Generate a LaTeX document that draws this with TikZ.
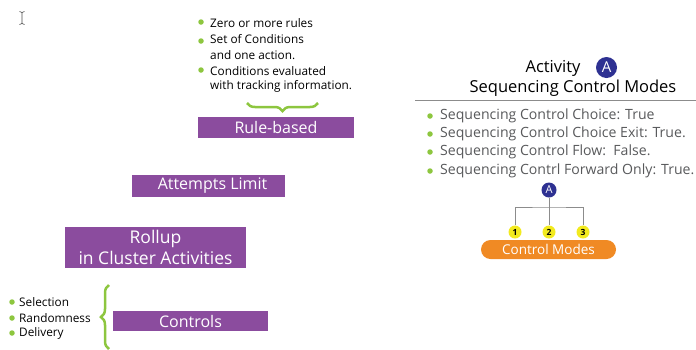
\documentclass[tikz,border=0pt]{standalone}
\usepackage{fontspec}
\setmainfont{Open Sans}
\usetikzlibrary{decorations.pathreplacing}
\definecolor{purp}{HTML}{8B4C9E}
\definecolor{lgreen}{HTML}{8DC63F}
\definecolor{navy}{HTML}{2E3192}
\definecolor{yel}{HTML}{F2EA1F}
\definecolor{orng}{HTML}{F08A24}
\definecolor{txtgray}{HTML}{58595B}
\begin{document}
\begin{tikzpicture}[x=1pt,y=-1pt,
  pbox/.style={fill=purp, text=white, inner sep=0pt, font=\fontsize{16}{18}\selectfont},
  ltxt/.style={anchor=west, inner sep=0pt, font=\fontsize{11.8}{13}\selectfont},
  rtxt/.style={anchor=west, inner sep=0pt, text=txtgray, font=\fontsize{14.1}{16}\selectfont},
  gdot/.style={circle, fill=lgreen, inner sep=0pt, minimum size=5.5pt},
  ycirc/.style={circle, fill=yel, inner sep=0pt, minimum size=13pt, font=\bfseries\fontsize{8.5}{9}\selectfont},
  gbrace/.style={draw=lgreen, line width=2.5pt, decorate, decoration={brace, amplitude=8pt}}]
\useasboundingbox (0,0) rectangle (696,349);
% cursor
\draw[black!70, line width=0.6pt] (22,12.5) -- (22,23.5)
  (19.5,11.5) .. controls (21,12) .. (22,12.5) .. controls (23,12) .. (24.5,11.5)
  (19.5,24.5) .. controls (21,24) .. (22,23.5) .. controls (23,24) .. (24.5,24.5);
% top list
\node[gdot] (d1) at (201,22) {};
\node[ltxt] (t1) at (210,23) {Zero or more rules};
\node[gdot] (d2) at (201,41) {};
\node[ltxt] (t2) at (210,39) {Set of Conditions};
\node[ltxt] (t3) at (210,55) {and one action.};
\node[gdot] (d3) at (201,70) {};
\node[ltxt] (t4) at (210,71) {Conditions evaluated};
\node[ltxt] (t5) at (210,86) {with tracking information.};
\coordinate (b1) at (247,103);
\coordinate (b2) at (318,103);
\draw[gbrace, decoration={mirror}] (b1) -- (b2);
% purple boxes
\node[pbox, minimum width=156pt, minimum height=21pt] (rule) at (276,127.5) {Rule-based};
\node[pbox, minimum width=153pt, minimum height=22pt] (att) at (208.5,186) {\hspace*{8pt}Attempts Limit};
\node[pbox, minimum width=181pt, minimum height=41pt, align=center, font=\fontsize{17.5}{21}\selectfont] (roll) at (155.5,247.5) {Rollup\\ in Cluster Activities};
\node[pbox, minimum width=155pt, minimum height=20pt] (ctrl) at (190.5,321) {Controls};
% left list
\node[gdot] (e1) at (12,302) {};
\node[ltxt] (s1) at (19,302) {Selection};
\node[gdot] (e2) at (12,318) {};
\node[ltxt] (s2) at (19,318) {Randomness};
\node[gdot] (e3) at (12,333) {};
\node[ltxt] (s3) at (19,333) {Delivery};
\coordinate (c1) at (109,349);
\coordinate (c2) at (109,285);
\draw[gbrace] (c1) -- (c2);
% right side
\node[inner sep=0pt, font=\fontsize{16.5}{18}\selectfont] (act) at (553,68) {Activity};
\node[circle, fill=navy, text=white, inner sep=0pt, minimum size=21pt, font=\fontsize{15}{18}\selectfont] (A1) at (606.5,67.5) {A};
\node[inner sep=0pt, font=\fontsize{16.5}{18}\selectfont] (scm) at (573,88) {Sequencing Control Modes};
\coordinate (l1) at (415,100);
\coordinate (l2) at (696,100);
\draw[black!45, line width=0.8pt] (l1) -- (l2);
\node[gdot] (f1) at (430,116) {};
\node[rtxt] (r1) at (440,116) {Sequencing Control Choice: True};
\node[gdot] (f2) at (430,134) {};
\node[rtxt] (r2) at (440,134) {Sequencing Control Choice Exit: True.};
\node[gdot] (f3) at (430,152) {};
\node[rtxt] (r3) at (440,152) {Sequencing Control Flow:\ \ False.};
\node[gdot] (f4) at (430,171) {};
\node[rtxt] (r4) at (440,171) {Sequencing Contrl Forward Only: True.};
\node[circle, fill=navy, text=white, inner sep=0pt, minimum size=15pt, font=\fontsize{11}{12}\selectfont] (A2) at (549,190) {A};
\node[ycirc] (n1) at (515,232) {1};
\node[ycirc] (n2) at (549,232) {2};
\node[ycirc] (n3) at (583,232) {3};
\coordinate (j) at (549,207);
\draw[black!45, line width=1pt] (A2.south) -- (n2.north);
\draw[black!45, line width=1pt] (n1.north) |- (j) -| (n3.north);
\node[fill=orng, text=white, rounded corners=9.5pt, minimum width=135pt, minimum height=19pt, inner sep=0pt, font=\fontsize{13.5}{16}\selectfont] (cm) at (548.5,249.5) {Control Modes};
\end{tikzpicture}
\end{document}
